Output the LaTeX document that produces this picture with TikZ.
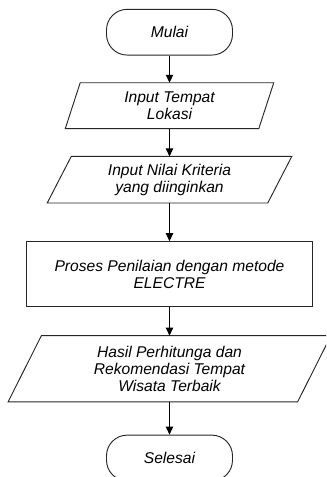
\documentclass[tikz,border=0pt]{standalone}
\usepackage{fontspec}
\setmainfont{Liberation Sans}
\usetikzlibrary{arrows.meta}
\begin{document}
\begin{tikzpicture}[x=0.75pt,y=-0.75pt,
  every node/.style={font=\fontsize{11.7}{13}\selectfont\itshape, align=center, inner sep=0pt},
  edge line/.style={draw=black!85, line width=0.7pt},
  term/.style={edge line, rectangle, rounded corners=15.5pt, minimum width=94.5pt, minimum height=34.3pt},
  iobody/.style={rectangle, minimum width=#1},
  procbox/.style={edge line, rectangle, minimum width=214pt, minimum height=48.75pt},
  arr/.style={draw=black, line width=0.7pt, -{Triangle[length=6pt,width=5.5pt]}}]
\useasboundingbox (0,0) rectangle (326,477);
\clip (0,0) rectangle (326,477);

\node[term] (mulai) at (169.5,32.2) {Mulai};
\node[iobody=144.75pt, minimum height=34pt] (p1) at (169.5,105.7) {Input Tempat\\Lokasi};
\node[iobody=165pt, minimum height=34.5pt] (p2) at (169.5,179.7) {Input Nilai Kriteria\\yang diinginkan};
\node[procbox] (proc) at (169.5,274.2) {Proses Penilaian dengan metode\\ELECTRE};
\node[iobody=216.75pt, minimum height=49.3pt] (p3) at (169.5,368.8) {Hasil Perhitunga dan\\Rekomendasi Tempat\\Wisata Terbaik};
\node[term] (selesai) at (169.5,458) {Selesai};

\draw[edge line] ([xshift=5.6pt]p1.north west) -- ([xshift=5.6pt]p1.north east) -- ([xshift=-5.6pt]p1.south east) -- ([xshift=-5.6pt]p1.south west) -- cycle;
\draw[edge line] ([xshift=9pt]p2.north west) -- ([xshift=9pt]p2.north east) -- ([xshift=-9pt]p2.south east) -- ([xshift=-9pt]p2.south west) -- cycle;
\draw[edge line] ([xshift=12.5pt]p3.north west) -- ([xshift=12.5pt]p3.north east) -- ([xshift=-12.5pt]p3.south east) -- ([xshift=-12.5pt]p3.south west) -- cycle;

\draw[arr] (mulai.south) -- (p1.north);
\draw[arr] (p1.south) -- (p2.north);
\draw[arr] (p2.south) -- (proc.north);
\draw[arr] (proc.south) -- (p3.north);
\draw[arr] (p3.south) -- (selesai.north);
\end{tikzpicture}
\end{document}
